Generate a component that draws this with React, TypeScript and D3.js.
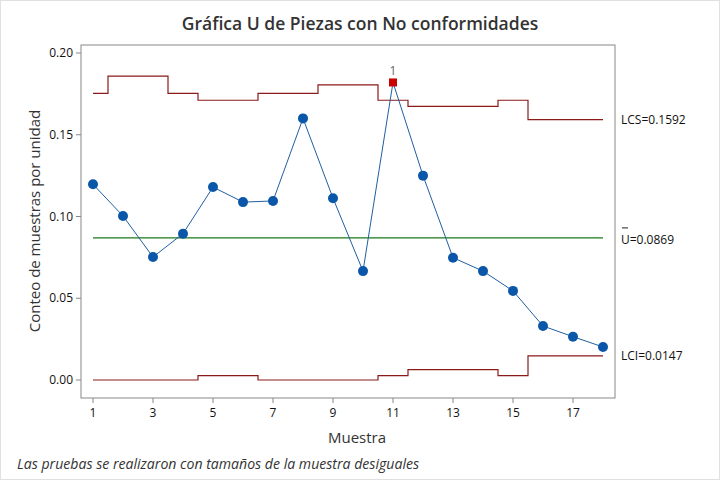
import React from "react";
import * as d3 from "d3";

const samples = [1, 2, 3, 4, 5, 6, 7, 8, 9, 10, 11, 12, 13, 14, 15, 16, 17, 18];
const uValues = [0.1197, 0.1003, 0.0752, 0.0895, 0.1180, 0.1088, 0.1095, 0.1600, 0.1112, 0.0666, 0.1820, 0.1250, 0.0748, 0.0666, 0.0545, 0.0330, 0.0265, 0.0202];
const uclValues = [0.1753, 0.1858, 0.1858, 0.1753, 0.1711, 0.1711, 0.1753, 0.1753, 0.1805, 0.1805, 0.1711, 0.1674, 0.1674, 0.1674, 0.1711, 0.1592, 0.1592, 0.1592];
const lclValues = [0, 0, 0, 0, 0.0027, 0.0027, 0, 0, 0, 0, 0.0027, 0.0064, 0.0064, 0.0064, 0.0027, 0.0147, 0.0147, 0.0147];
const centerValue = 0.0869;
const outOfControl = [11];
const xTicks = [1, 3, 5, 7, 9, 11, 13, 15, 17];
const yTicks = [0, 0.05, 0.1, 0.15, 0.2];

const W = 720, H = 480;
const FONT = "'Open Sans', 'Noto Sans', sans-serif";

export default function App() {
  const left = 81, right = 615, top = 45, bottom = 398;
  const x = d3.scaleLinear().domain([1, 18]).range([93, 603]);
  const y = d3.scaleLinear().domain([0, 0.2]).range([380, 53]);

  const stepPath = (vals: number[]) => {
    const pts: [number, number][] = [];
    vals.forEach((v, i) => {
      const s = samples[i];
      const x0 = i === 0 ? s : s - 0.5;
      const x1 = i === vals.length - 1 ? s : s + 0.5;
      pts.push([x(x0), y(v)]);
      pts.push([x(x1), y(v)]);
    });
    return d3.line()(pts) || "";
  };

  const line = d3.line<number>().x((_, i) => x(samples[i])).y((d) => y(d));
  const lastUcl = uclValues[uclValues.length - 1];
  const lastLcl = lclValues[lclValues.length - 1];

  return (
    <svg width={W} height={H} style={{ position: "absolute", left: 0, top: 0, background: "#fff" }} fontFamily={FONT}>
      <rect x={0.5} y={0.5} width={W - 1} height={H - 1} fill="#fff" stroke="#e0e0e0" />
      <text x={360} y={30} textAnchor="middle" fontSize={17.5} fontWeight={600} fill="#333">Gráfica U de Piezas con No conformidades</text>
      <rect x={left} y={top} width={right - left} height={bottom - top} fill="none" stroke="#888" strokeWidth={1} />
      {yTicks.map((t) => (
        <g key={t}>
          <line x1={left - 5} x2={left} y1={y(t)} y2={y(t)} stroke="#888" />
          <text x={left - 8} y={y(t)} dy="0.35em" textAnchor="end" fontSize={12} fill="#111">{t.toFixed(2)}</text>
        </g>
      ))}
      {xTicks.map((t) => (
        <g key={t}>
          <line x1={x(t)} x2={x(t)} y1={bottom} y2={bottom + 5} stroke="#888" />
          <text x={x(t)} y={bottom + 19} textAnchor="middle" fontSize={12} fill="#111">{t}</text>
        </g>
      ))}
      <text x={357} y={443} textAnchor="middle" fontSize={15} fontWeight={500} fill="#333">Muestra</text>
      <text transform="translate(40,221) rotate(-90)" textAnchor="middle" fontSize={15} fontWeight={500} fill="#333">Conteo de muestras por unidad</text>
      <path d={stepPath(uclValues)} fill="none" stroke="#8b1a1a" strokeWidth={1.2} />
      <path d={stepPath(lclValues)} fill="none" stroke="#8b1a1a" strokeWidth={1.2} />
      <line x1={x(1)} x2={x(18)} y1={y(centerValue)} y2={y(centerValue)} stroke="#1a7a1a" strokeWidth={1.2} />
      <path d={line(uValues) || ""} fill="none" stroke="#1f5fa0" strokeWidth={1} />
      {uValues.map((v, i) =>
        outOfControl.includes(samples[i]) ? (
          <g key={i}>
            <rect x={x(samples[i]) - 4} y={y(v) - 4} width={8} height={8} fill="#cc0000" />
            <text x={x(samples[i])} y={y(v) - 7} textAnchor="middle" fontSize={12} fill="#666">1</text>
          </g>
        ) : (
          <circle key={i} cx={x(samples[i])} cy={y(v)} r={5} fill="#0a56a8" />
        )
      )}
      <text x={621} y={y(lastUcl)} dy="0.35em" fontSize={12} fill="#111">LCS={lastUcl.toFixed(4)}</text>
      <text x={621} y={y(centerValue) + 2} dy="0.35em" fontSize={12} fill="#111">U={centerValue.toFixed(4)}</text>
      <line x1={622} x2={628} y1={y(centerValue) - 10} y2={y(centerValue) - 10} stroke="#222" strokeWidth={1} />
      <text x={621} y={y(lastLcl)} dy="0.35em" fontSize={12} fill="#111">LCI={lastLcl.toFixed(4)}</text>
      <text x={17} y={469} fontSize={14.1} fontStyle="italic" fill="#333">Las pruebas se realizaron con tamaños de la muestra desiguales</text>
    </svg>
  );
}
